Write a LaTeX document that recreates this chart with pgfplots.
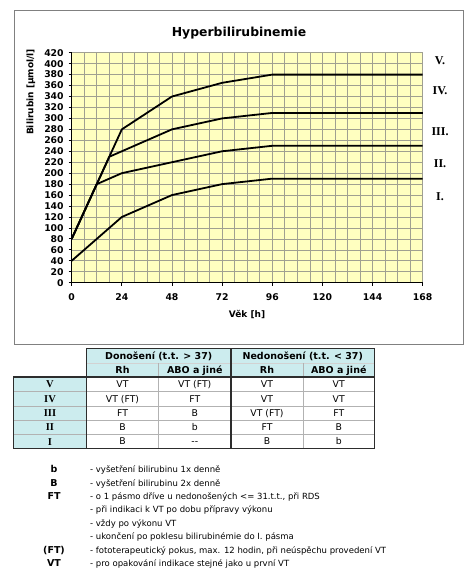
\documentclass[border=0pt]{standalone}
\usepackage{pgfplots}
\pgfplotsset{compat=1.18}
\usepackage{fontspec}
\setmainfont{DejaVu Sans}
\newfontfamily\tnr{Liberation Serif}
\definecolor{bgyel}{RGB}{255,255,192}
\definecolor{gridc}{RGB}{160,160,145}
\definecolor{hdr}{RGB}{204,236,238}
\definecolor{frm}{RGB}{128,128,128}
\definecolor{tdark}{RGB}{45,45,45}
\begin{document}
\begin{tikzpicture}
\begin{scope}[x=1pt,y=1pt]
\path[use as bounding box] (0,0) rectangle (474,573);
\draw[frm, line width=0.8pt, fill=white] (14.5,563) rectangle (463,228.7);
\end{scope}
\begin{axis}[
 at={(71.7pt,290.3pt)}, anchor=south west,
 scale only axis, width=351pt, height=230pt,
 xmin=0, xmax=168, ymin=0, ymax=420,
 xtick={0,24,...,168}, minor xtick={6,12,...,162},
 ytick={0,20,...,420},
 grid=both,
 major grid style={gridc, line width=0.65pt},
 minor grid style={gridc, line width=0.65pt},
 axis background/.style={fill=bgyel},
 axis x line*=bottom, axis y line*=left,
 axis line style={-, black, line width=0.8pt},
 tick align=outside, major tick length=3pt, minor tick length=0pt,
 tick style={black, line width=0.8pt},
 /pgf/number format/assume math mode=true,
 tick label style={font=\bfseries\fontsize{9.3}{10}\selectfont},
 xticklabel style={yshift=-4.5pt},
 yticklabel style={xshift=-1.5pt},
 clip=false,
]
\addplot[black, line width=1.8pt] coordinates {(0,40) (24,120) (48,160) (72,180) (96,190) (168,190)};
\addplot[black, line width=1.8pt] coordinates {(0,80) (12,180) (24,200) (48,220) (72,240) (96,250) (168,250)};
\addplot[black, line width=1.8pt] coordinates {(0,80) (18,230) (24,240) (48,280) (72,300) (96,310) (168,310)};
\addplot[black, line width=2.8pt] coordinates {(96,310) (168,310)};
\addplot[black, line width=1.8pt] coordinates {(0,80) (24,280) (48,340) (72,365) (96,380) (168,380)};
\begin{scope}[font=\tnr\bfseries\fontsize{12}{12}\selectfont]
\node at (axis cs:176.3,405) {V.};
\node at (axis cs:176.3,350) {IV.};
\node at (axis cs:176.3,275) {III.};
\node at (axis cs:176.3,218) {II.};
\node at (axis cs:176.3,158) {I.};
\end{scope}
\end{axis}
\begin{scope}[x=1pt,y=1pt]
\node[font=\bfseries\fontsize{12.4}{14}\selectfont] at (239,540) {Hyperbilirubinemie};
\node[rotate=90, font=\bfseries\fontsize{9}{10}\selectfont] at (31,481) {Bilirubin [µmol/l]};
\node[font=\bfseries\fontsize{9}{10}\selectfont] at (247,259) {Věk [h]};
% table
\fill[hdr] (86.5,224.5) rectangle (374.5,196);
\fill[hdr] (13.5,196) rectangle (86.5,124.2);
\draw[gray!35, line width=0.6pt] (86.5,210) -- (374.5,210);
\draw[gray!60, line width=0.6pt] (158.5,210) -- (158.5,124.2) (303,210) -- (303,124.2);
\foreach \yy in {181.5,167,152.8,138.4} {\draw[gray!60, line width=0.6pt] (13.5,\yy) -- (374.5,\yy);}
\draw[tdark, line width=1.4pt] (86.5,124.2) -- (86.5,224.5) -- (374.5,224.5) -- (374.5,124.2) -- (13.5,124.2) -- (13.5,196) -- (374.5,196);
\draw[tdark, line width=1.4pt] (231,224.5) -- (231,124.2);
\begin{scope}[every node/.style={anchor=base, inner sep=0pt}]
\begin{scope}[font=\bfseries\fontsize{9.5}{11}\selectfont]
\node at (158.75,213.9) {Donošení (t.t. > 37)};
\node at (302.75,213.9) {Nedonošení (t.t. < 37)};
\node at (122.5,199.6) {Rh};
\node at (194.75,199.6) {ABO a jiné};
\node at (267,199.6) {Rh};
\node at (338.75,199.6) {ABO a jiné};
\end{scope}
\begin{scope}[font=\tnr\bfseries\fontsize{10.5}{11}\selectfont]
\node at (50,185.2) {V};
\node at (50,170.7) {IV};
\node at (50,156.4) {III};
\node at (50,142.1) {II};
\node at (50,127.8) {I};
\end{scope}
\begin{scope}[font=\fontsize{9.3}{11}\selectfont]
\node at (122.5,185.4) {VT};
\node at (194.75,185.4) {VT (FT)};
\node at (267,185.4) {VT};
\node at (338.75,185.4) {VT};
\node at (122.5,170.9) {VT (FT)};
\node at (194.75,170.9) {FT};
\node at (267,170.9) {VT};
\node at (338.75,170.9) {VT};
\node at (122.5,156.6) {FT};
\node at (194.75,156.6) {B};
\node at (267,156.6) {VT (FT)};
\node at (338.75,156.6) {FT};
\node at (122.5,142.3) {B};
\node at (194.75,142.3) {b};
\node at (267,142.3) {FT};
\node at (338.75,142.3) {B};
\node at (122.5,128) {B};
\node at (194.75,128) {{-}{-}};
\node at (267,128) {B};
\node at (338.75,128) {b};
\end{scope}
% notes
\begin{scope}[font=\bfseries\fontsize{9.5}{11}\selectfont]
\node at (54,100.2) {b};
\node at (54,86.8) {B};
\node at (54,73.4) {FT};
\node at (54,19.8) {(FT)};
\node at (54,6.4) {VT};
\end{scope}
\begin{scope}[font=\fontsize{8.5}{10}\selectfont, every node/.style={anchor=base west, inner sep=0pt}]
\node at (90,100.3) {- vyšetření bilirubinu 1x denně};
\node at (90,86.9) {- vyšetření bilirubinu 2x denně};
\node at (90,73.5) {- o 1 pásmo dříve u nedonošených <= 31.t.t., při RDS};
\node at (90,60.1) {- při indikaci k VT po dobu přípravy výkonu};
\node at (90,46.7) {- vždy po výkonu VT};
\node at (90,33.3) {- ukončení po poklesu bilirubinémie do I. pásma};
\node at (90,19.9) {- fototerapeutický pokus, max. 12 hodin, při neúspěchu provedení VT};
\node at (90,6.5) {- pro opakování indikace stejné jako u první VT};
\end{scope}
\end{scope}
\end{scope}
\end{tikzpicture}
\end{document}
